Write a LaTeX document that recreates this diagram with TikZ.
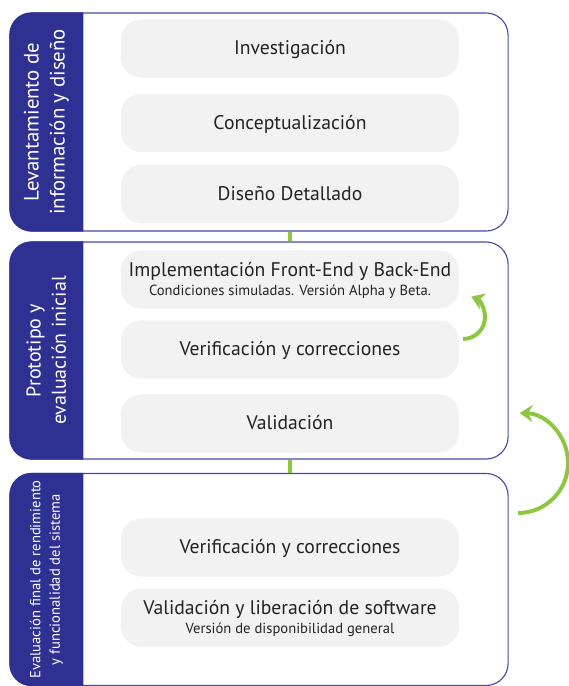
\documentclass[tikz,border=0pt]{standalone}
\usepackage{fontspec}
\setmainfont{PT Sans}
\usetikzlibrary{calc,arrows.meta}
\definecolor{PhaseNavy}{RGB}{46,49,146}
\definecolor{PhaseLine}{RGB}{72,74,168}
\definecolor{PhaseGreen}{RGB}{141,198,63}
\definecolor{StepGray}{RGB}{242,242,242}
\definecolor{StepText}{RGB}{35,35,35}
\newcommand{\stepsub}{\fontsize{10.4}{11.5}\selectfont}
\tikzset{
  phasebox/.style={draw=PhaseLine,line width=0.8pt,fill=white,rounded corners=0.55cm,
        minimum width=12.45cm,inner sep=0pt},
  stepbox/.style={fill=StepGray,rounded corners=0.5cm,minimum width=8.45cm,minimum height=1.45cm,
        align=center,text=StepText,inner sep=0pt,text depth=1pt,font=\fontsize{14}{15}\selectfont},
  phaselabel/.style={rotate=90,text=white,align=center,inner sep=0pt},
  link/.style={draw=PhaseGreen,line width=2.2pt},
  loopback/.style={draw=PhaseGreen,line width=2.8pt,-{Stealth[length=9pt,width=12pt]}}
}

\begin{document}
\begin{tikzpicture}[x=0.025cm,y=-0.025cm]
  \useasboundingbox (0,0) rectangle (568,686);
  % phases
  \node[phasebox,minimum height=5.45cm] (p1) at (259,122) {};
  \node[phasebox,minimum height=5.425cm] (p2) at (259,350.5) {};
  \node[phasebox,minimum height=5.3cm] (p3) at (259,579.5) {};
  \foreach \p in {p1,p2,p3}
    \fill[PhaseNavy] ([xshift=1.85cm]\p.north west) [rounded corners=0.55cm] -- (\p.north west)
      -- (\p.south west) [sharp corners] -- ([xshift=1.85cm]\p.south west) -- cycle;
  \node[phaselabel,font=\fontsize{14.8}{18.5}\selectfont] (l1) at ($(p1.west)+(0.925cm,0)$)
    {Levantamiento de\\información y diseño};
  \node[phaselabel,font=\fontsize{14.2}{18}\selectfont] (l2) at ($(p2.west)+(0.925cm,0)$)
    {Prototipo y\\evaluación inicial};
  \node[phaselabel,font=\fontsize{10.4}{14}\selectfont] (l3) at ($(p3.west)+(0.925cm,0)$)
    {Evaluación final de rendimiento\\y funcionalidad del sistema};
  % steps
  \node[stepbox] (inv) at (290,48.5) {Investigación};
  \node[stepbox] (con) at (290,123) {Conceptualización};
  \node[stepbox] (dis) at (290,194) {Diseño Detallado};
  \node[stepbox] (imp) at (290,279.5) {Implementación Front-End y Back-End\\[-1pt]
    {\stepsub Condiciones simuladas. Versión Alpha y Beta.}};
  \node[stepbox] (ver) at (290,349.5) {Verificación y correcciones};
  \node[stepbox] (val) at (290,423.5) {Validación};
  \node[stepbox] (fver) at (290,547.5) {Verificación y correcciones};
  \node[stepbox] (lib) at (290,617.5) {Validación y liberación de software\\[-1pt]
    {\stepsub Versión de disponibilidad general}};
  % links and loops
  \draw[link] (dis |- p1.south) -- (imp |- p2.north);
  \draw[link] (val |- p2.south) -- (fver |- p3.north);
  \coordinate (s1) at (463,339);
  \coordinate (s2) at (518,513);
  \draw[loopback] (s1) arc[start angle=-90,end angle=68,radius=0.55cm];
  \draw[loopback] (s2) arc[start angle=-90,end angle=88,radius=1.25cm];
\end{tikzpicture}
\end{document}
